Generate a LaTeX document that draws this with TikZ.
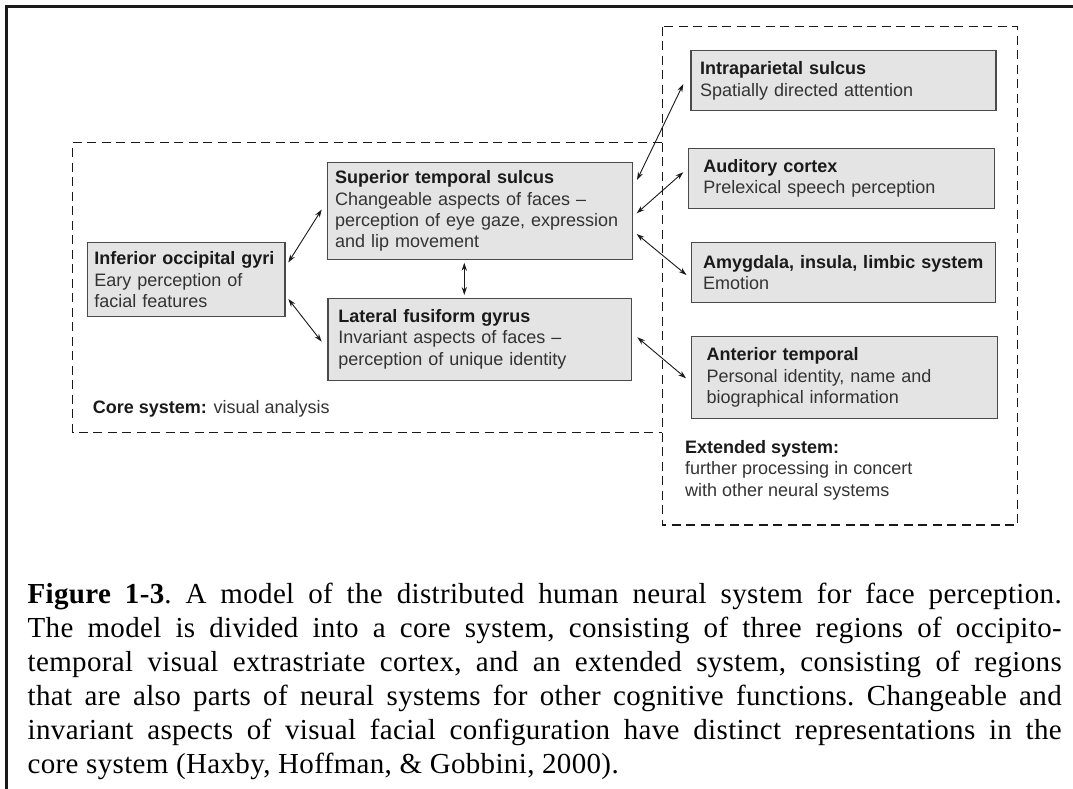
\documentclass[tikz,border=0pt]{standalone}
\usepackage{fontspec}
\setmainfont{Liberation Serif}
\setsansfont{Liberation Sans}
\newfontfamily\capfont[LetterSpace=1.2]{Liberation Serif}
\usepackage{tikz}
\usepackage{xcolor}
\usetikzlibrary{arrows.meta}
\definecolor{cInk}     {HTML}{1A1A1A}
\definecolor{cBody}    {HTML}{333333}
\definecolor{cBoxFill} {HTML}{E4E4E4}
\definecolor{cBoxEdge} {HTML}{4A4A4A}
\newcommand{\regiontitle}[1]{\textcolor{cInk}{\bfseries #1}}

\begin{document}
\begin{tikzpicture}[x=1pt, y=-1pt,
    region/.style={draw=cBoxEdge, fill=cBoxFill, line width=1.3pt, anchor=north west,
      outer sep=0pt, inner ysep=0pt, align=left, text=cBody,
      font=\sffamily\fontsize{18}{21.3}\selectfont},
    sysframe/.style={draw=cInk, line width=1.4pt, dash pattern=on 9pt off 5.5pt},
    link/.style={cInk, line width=0.9pt,
      {Stealth[length=8pt,width=5.2pt]}-{Stealth[length=8pt,width=5.2pt]}},
    note/.style={anchor=base west, align=left, inner sep=0pt, text=cBody,
      font=\sffamily\fontsize{18}{21.6}\selectfont}]

  \useasboundingbox (0,0) rectangle (1073,789);
  \fill[white] (0,0) rectangle (1073,789);

  % page frame (cut at right and bottom)
  \draw[cInk, line width=2.6pt] (6.7,800) -- (6.7,6.5) -- (1080,6.5);

  % core and extended system frames
  \draw[sysframe] (661.7,142.7) -- (72.7,142.7) -- (72.7,432.2) -- (661.7,432.2);
  \draw[sysframe] (662.3,26.7) rectangle (1017.7,525);

  % core regions
  \node[region, text width=183.7pt, inner xsep=7pt, minimum height=74pt] (ioc) at (87.3,242.7)
    {\regiontitle{Inferior occipital gyri}\\Eary perception of\\facial features};
  \node[region, text width=290pt, inner xsep=7.3pt, minimum height=96.6pt] (sts) at (327.7,162.7)
    {\regiontitle{Superior temporal sulcus}\\Changeable aspects of faces --\\perception of eye gaze, expression\\and lip movement};
  \node[region, text width=283.1pt, inner xsep=10.3pt, minimum height=82pt] (lfg) at (328,298.3)
    {\regiontitle{Lateral fusiform gyrus}\\Invariant aspects of faces --\\perception of unique identity};

  % extended regions
  \node[region, text width=287pt, inner xsep=9pt, minimum height=60pt] (ips) at (691,50.7)
    {\regiontitle{Intraparietal sulcus}\\Spatially directed attention};
  \node[region, text width=276pt, inner xsep=15pt, minimum height=60pt] (aud) at (688.3,148.3)
    {\regiontitle{Auditory cortex}\\Prelexical speech perception};
  \node[region, text width=281pt, inner xsep=11.5pt, minimum height=60.4pt] (amy) at (691.7,242.3)
    {\regiontitle{Amygdala, insula, limbic system}\\Emotion};
  \node[region, text width=275.6pt, inner xsep=15pt, minimum height=81.6pt] (ant) at (691.7,336.7)
    {\regiontitle{Anterior temporal}\\Personal identity, name and\\biographical information};

  \node[note] (coretxt) at (92.7,413.3) {\regiontitle{Core system:} visual analysis};
  \node[note] (exttxt) at (685,496.5)
    {\regiontitle{Extended system:}\\further processing in concert\\with other neural systems};

  % connections
  \draw[link] ([xshift=3.3pt,yshift=-19.8pt]ioc.north east) -- ([xshift=-6pt,yshift=-46.8pt]sts.north west);
  \draw[link] ([xshift=3.3pt,yshift=17.7pt]ioc.south east) -- ([xshift=-6.3pt,yshift=-43.4pt]lfg.north west);
  \draw[link] ([xshift=136.6pt,yshift=-3.4pt]sts.south west) -- ([xshift=136.3pt,yshift=3.3pt]lfg.north west);
  \draw[link] ([xshift=4.7pt,yshift=-17.3pt]sts.north east) -- ([xshift=-7.7pt,yshift=-33.3pt]ips.north west);
  \draw[link] ([xshift=4.4pt,yshift=-50.6pt]sts.north east) -- ([xshift=-5pt,yshift=-23.9pt]aud.north west);
  \draw[link] ([xshift=4.4pt,yshift=-71.3pt]sts.north east) -- ([xshift=-5.2pt,yshift=-32.7pt]amy.north west);
  \draw[link] ([xshift=5.6pt,yshift=-39pt]lfg.north east) -- ([xshift=-5.7pt,yshift=-41.6pt]ant.north west);

  % caption (base anchor sits on the last line)
  \node[anchor=base west, inner sep=0pt, align=left, text=black,
        font=\capfont\fontsize{29}{34}\selectfont\frenchspacing] (caption) at (27.5,773)
    {\makebox[1034pt][s]{\textbf{Figure 1-3}. A model of the distributed human neural system for face perception.}\\
     \makebox[1034pt][s]{The model is divided into a core system, consisting of three regions of occipito-}\\
     \makebox[1034pt][s]{temporal visual extrastriate cortex, and an extended system, consisting of regions}\\
     \makebox[1034pt][s]{that are also parts of neural systems for other cognitive functions. Changeable and}\\
     \makebox[1034pt][s]{invariant aspects of visual facial configuration have distinct representations in the}\\
     core system (Haxby, Hoffman, \& Gobbini, 2000).};
\end{tikzpicture}
\end{document}
